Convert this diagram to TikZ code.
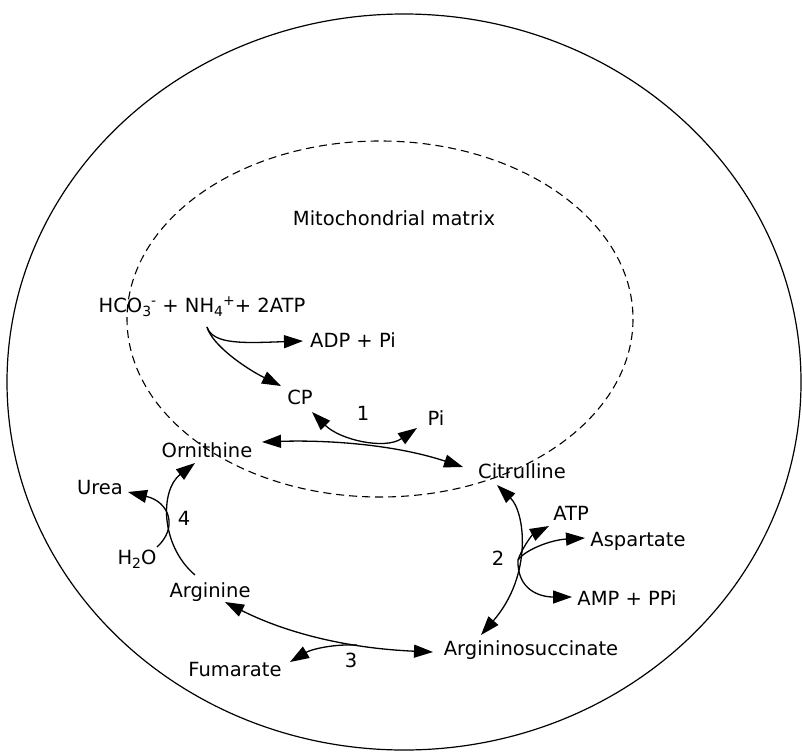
\documentclass[tikz,border=0pt]{standalone}
\usepackage{fontspec}
\setmainfont{DejaVu Sans}
\usetikzlibrary{arrows.meta}
\newcommand\mysb[1]{\raisebox{-4pt}{\fontsize{14}{14}\selectfont #1}}
\newcommand\mysp[1]{\raisebox{7pt}{\fontsize{14}{14}\selectfont #1}}
\begin{document}
\begin{tikzpicture}[x=1pt,y=-1pt,
  lbl/.style={inner xsep=5pt, inner ysep=2pt, text height=14.5pt, text depth=4pt, font=\fontsize{19.5}{23}\selectfont},
  rtip/.tip={Triangle[length=19pt,width=13pt]},
  arr/.style={line width=1.3pt,-rtip},
  darr/.style={line width=1.3pt,rtip-rtip},
  cell/.style={line width=1.2pt},
  matrixwall/.style={line width=1.1pt, dash pattern=on 8pt off 5pt},
]
\useasboundingbox (0,0) rectangle (802,752);
\fill[white] (0,0) rectangle (802,752);
\draw[cell] (404,382) ellipse [x radius=397, y radius=368];
\draw[matrixwall] (380,319) ellipse [x radius=253, y radius=178];

\node[lbl] (mito) at (394,220) {Mitochondrial matrix};
\node[lbl] (hco) at (202,307) {HCO\mysb{3}\mysp{-} + NH\mysb{4}\mysp{+}+ 2ATP};
\node[lbl] (adp) at (353,342) {ADP + Pi};
\node[lbl] (cp) at (300,399) {CP};
\node[lbl] (n1) at (363,415) {1};
\node[lbl] (pi) at (436,420) {Pi};
\node[lbl] (orn) at (207,452) {Ornithine};
\node[lbl] (cit) at (522,473) {Citrulline};
\node[lbl] (urea) at (100,489) {Urea};
\node[lbl] (n4) at (184,520) {4};
\node[lbl] (h2o) at (137,559) {H\mysb{2}O};
\node[lbl] (arg) at (210,592) {Arginine};
\node[lbl] (atp) at (571,515) {ATP};
\node[lbl] (asp) at (638,541) {Aspartate};
\node[lbl] (n2) at (498,560) {2};
\node[lbl] (amp) at (627,600) {AMP + PPi};
\node[lbl] (asuc) at (531,650) {Argininosuccinate};
\node[lbl] (fum) at (235,671) {Fumarate};
\node[lbl] (n3) at (351,662) {3};

\coordinate (b1) at ([shift={(5pt,-20pt)}]hco.center);
\coordinate (r2) at (518,560);
\coordinate (r3) at (357,645);

% reaction 0: carbamoyl phosphate synthesis
\draw[arr] (b1) .. controls (213,345) and (245,343) .. ([shift={(-50pt,1pt)}]adp.center);
\draw[arr] (b1) .. controls (212,345) and (245,368) .. ([shift={(-19pt,13pt)}]cp.center);

% reaction 1
\draw[darr] ([shift={(12pt,-13pt)}]cp.center) .. controls (340,440) and (385,450) .. ([shift={(-19pt,-8pt)}]pi.center);
\draw[darr] ([shift={(55pt,10pt)}]orn.center) .. controls (320,440) and (390,443) .. ([shift={(-59pt,6pt)}]cit.center);

% reaction 2
\draw[darr] ([shift={(-25pt,-12pt)}]cit.center) .. controls (525,512) and (533,575) .. ([shift={(-50pt,15pt)}]asuc.center);
\draw[arr] (r2) .. controls (522,548) and (532,535) .. ([shift={(-22pt,-11pt)}]atp.center);
\draw[arr] (r2) .. controls (525,550) and (550,540) .. ([shift={(-53pt,3pt)}]asp.center);
\draw[arr] (r2) .. controls (517,590) and (540,597) .. ([shift={(-55pt,3pt)}]amp.center);

% reaction 3
\draw[darr] ([shift={(15pt,-10pt)}]arg.center) .. controls (280,630) and (340,648) .. ([shift={(-98pt,-2pt)}]asuc.center);
\draw[arr] (r3) .. controls (330,644) and (310,650) .. ([shift={(55pt,9pt)}]fum.center);

% reaction 4
\draw[arr] ([shift={(-15pt,17pt)}]arg.center) .. controls (160,545) and (160,490) .. ([shift={(-12pt,-11pt)}]orn.center);
\draw[arr] ([shift={(20pt,12pt)}]h2o.center) .. controls (178,528) and (170,502) .. ([shift={(28pt,-3pt)}]urea.center);
\end{tikzpicture}
\end{document}
